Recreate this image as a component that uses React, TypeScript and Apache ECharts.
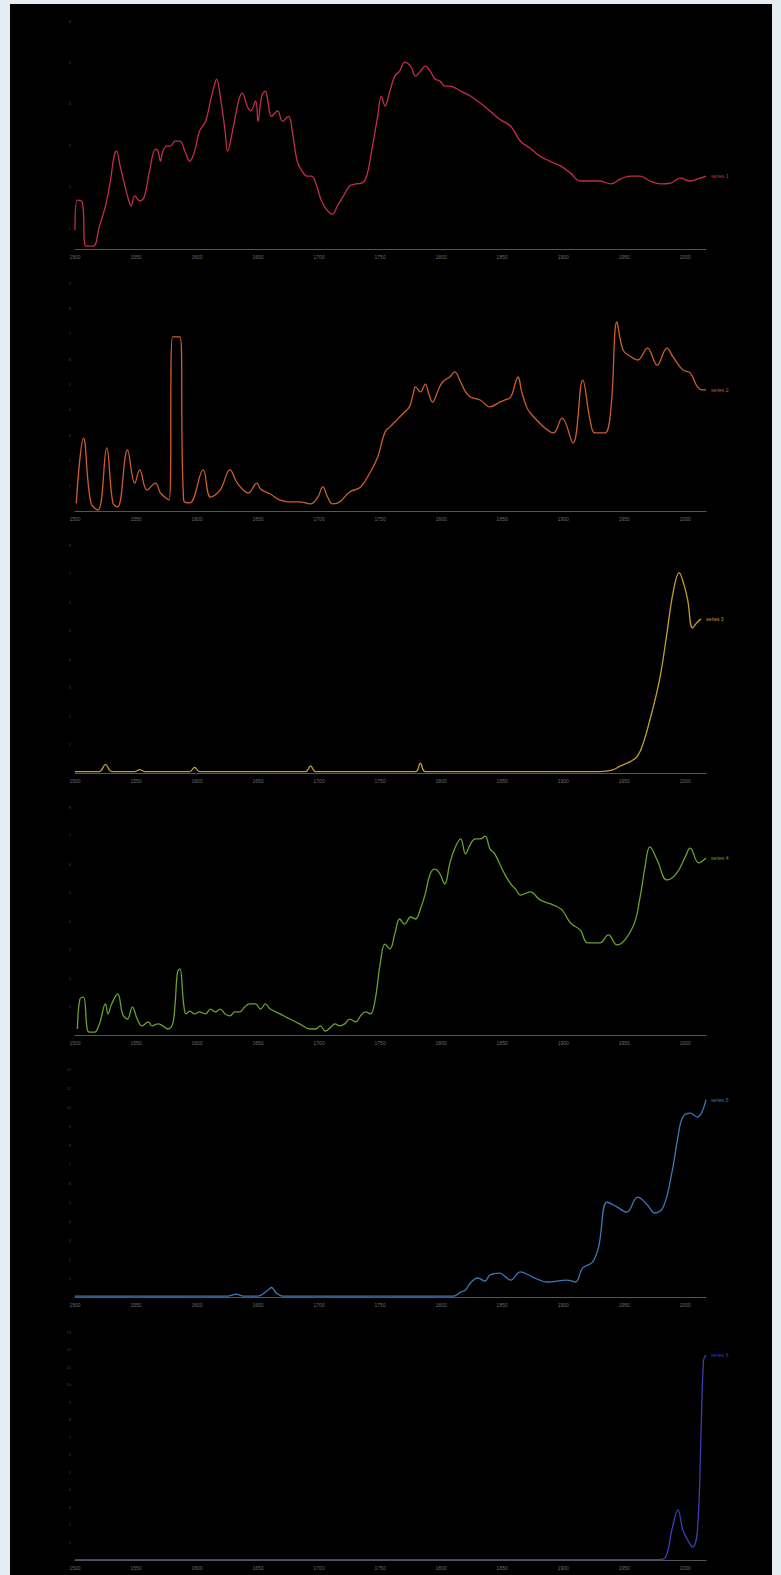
import React, { useEffect, useRef } from "react";
import * as echarts from "echarts";

const xLabelYears = [1500, 1550, 1600, 1650, 1700, 1750, 1800, 1850, 1900, 1950, 2000];

const seriesNames = ["series 1", "series 2", "series 3", "series 4", "series 5", "series 6"];
const seriesColors = ["#c42d47", "#cf5d2b", "#c49f2e", "#67a32f", "#3b76ba", "#3d3cb0"];

const redYears = [1500,1502,1506,1509,1515,1520,1525,1529,1532,1534,1537,1539,1543,1546,1549,1553,1557,1561,1566,1568,1570,1572,1575,1578,1582,1586,1590,1594,1598,1602,1607,1611,1614,1616,1619,1623,1625,1629,1634,1637,1641,1644,1648,1650,1653,1656,1658,1661,1666,1670,1675,1678,1682,1686,1690,1694,1698,1702,1707,1711,1715,1720,1725,1730,1735,1739,1743,1748,1751,1754,1758,1762,1766,1770,1775,1779,1783,1787,1791,1795,1799,1803,1807,1816,1824,1832,1840,1848,1857,1865,1873,1881,1889,1898,1906,1914,1922,1930,1939,1947,1955,1963,1971,1980,1988,1996,2004,2012,2017];
const redValues = [0.96,1.68,1.63,0.57,0.57,1.05,1.54,2.14,2.74,2.86,2.5,2.26,1.78,1.54,1.78,1.66,1.78,2.38,2.91,2.86,2.62,2.86,2.98,2.98,3.1,3.1,2.86,2.62,2.86,3.34,3.58,4.07,4.43,4.6,4.19,3.34,2.86,3.34,4.07,4.26,3.95,3.83,4.07,3.58,4.19,4.31,4.07,3.7,3.83,3.58,3.7,3.34,2.62,2.38,2.26,2.26,2.02,1.66,1.42,1.34,1.54,1.78,2.02,2.07,2.09,2.26,2.86,3.7,4.19,3.95,4.31,4.67,4.79,5.0,4.91,4.67,4.79,4.91,4.79,4.6,4.55,4.43,4.43,4.31,4.19,4.02,3.83,3.63,3.46,3.1,2.93,2.74,2.62,2.5,2.33,2.14,2.14,2.14,2.07,2.19,2.26,2.26,2.14,2.07,2.09,2.21,2.14,2.21,2.26];

const orangeYears = [1501,1507,1513,1519,1526,1531,1535,1543,1549,1553,1559,1566,1570,1577,1580,1586,1589,1594,1605,1611,1619,1627,1633,1642,1649,1652,1660,1668,1676,1684,1693,1699,1703,1707,1711,1717,1725,1734,1742,1748,1754,1758,1762,1766,1770,1774,1777,1779,1783,1787,1790,1793,1797,1800,1803,1807,1811,1816,1820,1824,1832,1840,1848,1852,1857,1861,1863,1866,1870,1873,1884,1892,1899,1908,1916,1922,1926,1934,1939,1944,1949,1955,1961,1969,1977,1985,1990,1998,2004,2010,2014,2017];
const orangeValues = [0.3,2.88,0.32,0.04,2.49,0.32,0.16,2.41,1.1,1.62,0.83,1.1,0.71,0.43,6.87,6.87,0.43,0.32,1.62,0.55,0.83,1.62,1.1,0.71,1.1,0.87,0.67,0.43,0.36,0.36,0.28,0.55,0.95,0.55,0.28,0.36,0.75,0.95,1.54,2.13,3.12,3.32,3.51,3.71,3.91,4.11,4.6,4.9,4.7,5.01,4.6,4.3,4.7,5.01,5.17,5.29,5.49,5.09,4.7,4.5,4.38,4.11,4.3,4.38,4.5,5.09,5.29,4.7,4.11,3.87,3.32,3.08,3.67,2.68,5.17,3.6,3.08,3.08,3.99,7.46,6.36,6.1,5.96,6.43,5.76,6.43,6.08,5.57,5.45,4.9,4.78,4.78];

const goldYears = [1500,1520,1525,1530,1549,1553,1557,1594,1598,1602,1689,1693,1697,1779,1783,1787,1930,1940,1947,1955,1961,1966,1971,1976,1980,1985,1990,1995,1999,2002,2006,2010,2013];
const goldValues = [0.05,0.05,0.3,0.05,0.05,0.12,0.05,0.05,0.2,0.05,0.05,0.25,0.05,0.05,0.35,0.05,0.05,0.1,0.25,0.4,0.6,1.1,1.86,2.7,3.51,4.91,6.32,7.02,6.6,6.07,5.09,5.3,5.4];

const greenYears = [1502,1504,1507,1510,1512,1516,1520,1525,1527,1530,1535,1539,1543,1547,1551,1555,1560,1563,1568,1572,1576,1580,1582,1584,1586,1589,1591,1594,1598,1602,1607,1611,1615,1619,1623,1627,1631,1635,1639,1643,1648,1652,1656,1660,1668,1676,1684,1693,1697,1701,1705,1709,1713,1717,1721,1725,1730,1734,1738,1742,1746,1750,1754,1758,1762,1766,1770,1775,1779,1783,1787,1791,1795,1799,1803,1807,1811,1816,1820,1824,1828,1832,1836,1840,1844,1848,1852,1857,1861,1865,1873,1881,1892,1899,1906,1914,1920,1930,1937,1944,1957,1963,1967,1971,1977,1985,1993,2000,2004,2011,2017];
const greenValues = [0.21,1.26,1.33,0.21,0.1,0.1,0.39,1.09,0.74,1.09,1.44,0.74,0.56,0.98,0.56,0.32,0.46,0.32,0.39,0.32,0.21,0.39,1.09,2.21,2.32,1.09,0.74,0.84,0.74,0.81,0.74,0.91,0.81,0.91,0.74,0.67,0.81,0.81,0.98,1.09,1.09,0.91,1.09,0.91,0.74,0.56,0.39,0.21,0.21,0.32,0.14,0.25,0.39,0.32,0.39,0.56,0.46,0.67,0.81,0.74,1.26,2.49,3.19,3.02,3.54,4.07,3.89,4.14,4.07,4.42,4.95,5.65,5.82,5.65,5.3,6.0,6.53,6.88,6.35,6.7,6.88,6.88,6.98,6.53,6.35,6.0,5.65,5.3,5.12,4.91,5.02,4.74,4.56,4.39,3.93,3.68,3.23,3.23,3.51,3.16,3.79,4.84,5.89,6.6,6.14,5.44,5.68,6.25,6.56,6.04,6.21];

const blueYears = [1500,1625,1632,1638,1650,1657,1661,1665,1670,1810,1816,1820,1824,1830,1836,1840,1848,1852,1857,1865,1875,1887,1903,1910,1916,1924,1929,1936,1944,1952,1961,1969,1975,1982,1989,1994,1998,2004,2010,2017];
const blueValues = [0.05,0.05,0.15,0.05,0.05,0.3,0.5,0.2,0.05,0.05,0.26,0.37,0.74,1.0,0.84,1.16,1.26,1.1,0.89,1.32,1.05,0.79,0.89,0.79,1.53,1.84,2.63,5.0,4.74,4.47,5.26,4.84,4.42,4.74,6.53,8.42,9.47,9.68,9.47,10.37];

const indigoYears = [1500,1970,1978,1984,1989,1994,1998,2002,2006,2010,2013,2015,2017];
const indigoValues = [0.02,0.02,0.02,0.17,1.71,2.86,1.71,1.14,0.74,1.71,7.43,11.4,11.7];

const yMins = [0.5, 0, 0, 0, 0, 0];
const yMaxs = [6, 9, 8, 8, 12, 13];
const axisBaselines = [249, 511, 773, 1035, 1297, 1560];

const allYears = [redYears, orangeYears, goldYears, greenYears, blueYears, indigoYears];
const allValues = [redValues, orangeValues, goldValues, greenValues, blueValues, indigoValues];

export default function App() {
  const ref = useRef<HTMLDivElement>(null);
  useEffect(() => {
    document.body.style.margin = "0";
    if (!ref.current) return;
    const chart = echarts.init(ref.current, null, { renderer: "svg" });
    const gridH = 228;
    const grids = axisBaselines.map((b) => ({ left: 75, top: b - gridH, width: 631, height: gridH }));
    const xAxes = axisBaselines.map((_, i) => ({
      type: "value",
      gridIndex: i,
      min: 1500,
      max: 2017,
      interval: 50,
      axisLine: { lineStyle: { color: "#555", width: 1 } },
      axisTick: { show: false },
      splitLine: { show: false },
      axisLabel: {
        color: "#6a6a6a",
        fontSize: 5,
        margin: 5,
        showMaxLabel: false,
        formatter: (v: number) => (xLabelYears.indexOf(v) >= 0 ? String(v) : ""),
      },
    }));
    const yAxes = axisBaselines.map((_, i) => ({
      type: "value",
      gridIndex: i,
      min: yMins[i],
      max: yMaxs[i],
      splitNumber: yMaxs[i] - Math.ceil(yMins[i]),
      axisLine: { show: false },
      axisTick: { show: false },
      splitLine: { show: false },
      axisLabel: { color: "#444", fontSize: 4, margin: 4, showMinLabel: false },
    }));
    const series = allYears.map((ys, i) => ({
      type: "line",
      name: seriesNames[i],
      xAxisIndex: i,
      yAxisIndex: i,
      data: ys.map((y, k) => [y, allValues[i][k]]),
      smooth: 0.4,
      showSymbol: false,
      lineStyle: { color: seriesColors[i], width: 1.3 },
      itemStyle: { color: seriesColors[i] },
      endLabel: {
        show: true,
        formatter: "{a}",
        color: seriesColors[i],
        fontSize: 5,
        distance: 5,
      },
    }));
    chart.setOption({
      animation: false,
      backgroundColor: "transparent",
      grid: grids,
      xAxis: xAxes,
      yAxis: yAxes,
      series,
    });
    return () => chart.dispose();
  }, []);
  return (
    <div style={{ position: "relative", width: 781, height: 1575, background: "#e4edf2", overflow: "hidden" }}>
      <div style={{ position: "absolute", left: 10, top: 4, width: 762, height: 1571, background: "#000" }} />
      <div ref={ref} style={{ position: "absolute", left: 0, top: 0, width: 781, height: 1575 }} />
    </div>
  );
}
